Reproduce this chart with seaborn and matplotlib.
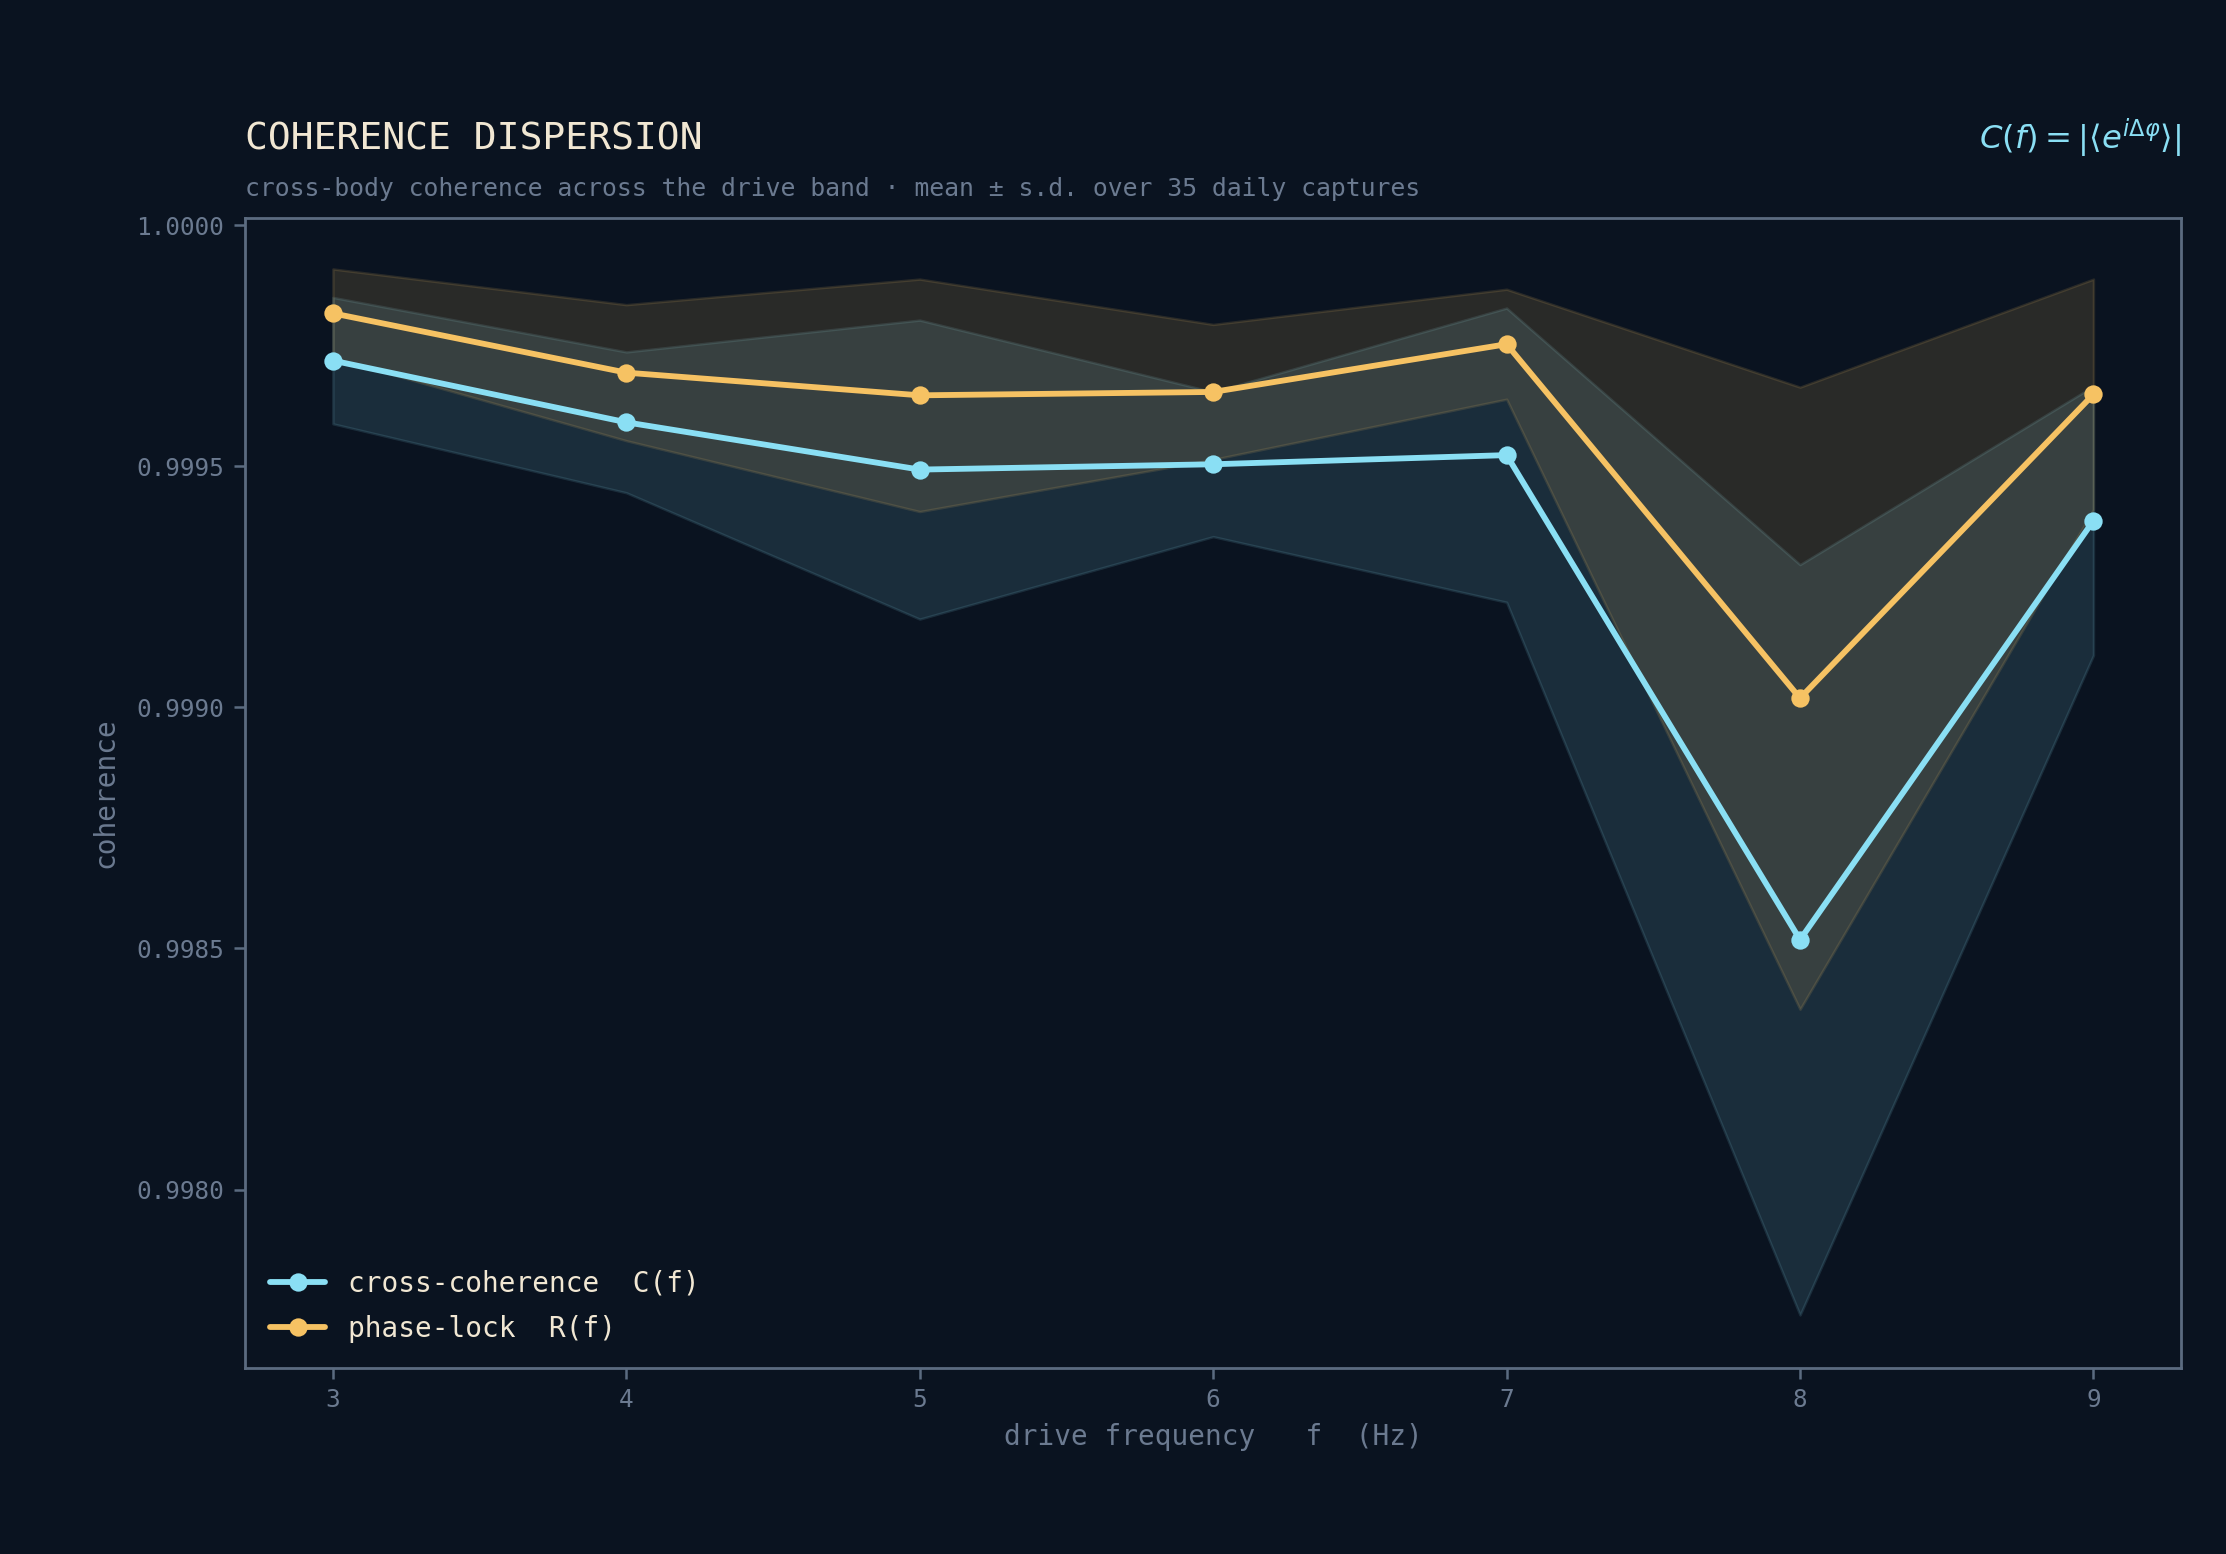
import numpy as np
import pandas as pd
import matplotlib
matplotlib.use("Agg")
import matplotlib.pyplot as plt
import seaborn as sns

# ---- data ----
freq = [3, 4, 5, 6, 7, 8, 9]
c_mean = [0.999719, 0.999591, 0.999493, 0.999504, 0.999523, 0.998518, 0.999387]
c_sd = [0.000131, 0.000146, 0.000310, 0.000150, 0.000305, 0.000778, 0.000279]
r_mean = [0.999817, 0.999694, 0.999647, 0.999654, 0.999753, 0.999019, 0.999649]
r_sd = [0.000092, 0.000141, 0.000241, 0.000140, 0.000114, 0.000645, 0.000239]
series_labels = ["cross-coherence  C(f)", "phase-lock  R(f)"]
y_ticks = [0.9980, 0.9985, 0.9990, 0.9995, 1.0000]

BG = "#0a1320"
CYAN = "#8adff4"
ORANGE = "#f6c263"
CREAM = "#f1e7d3"
MUTED = "#6b7a90"
SPINE = "#5b6b80"

sns.set_theme(style="dark")
plt.rcParams["font.family"] = ["DejaVu Sans Mono", "DejaVu Sans"]
plt.rcParams["mathtext.fontset"] = "dejavusans"

fig = plt.figure(figsize=(11.13, 7.77), dpi=200, facecolor=BG)
ax = fig.add_axes([0.110, 0.120, 0.870, 0.740])
ax.set_facecolor(BG)

df = pd.DataFrame({
    "f": freq * 2,
    "value": c_mean + r_mean,
    "series": [series_labels[0]] * len(freq) + [series_labels[1]] * len(freq),
})

x = np.array(freq, dtype=float)
cm, cs = np.array(c_mean), np.array(c_sd)
rm, rs = np.array(r_mean), np.array(r_sd)
ax.fill_between(x, cm - cs, cm + cs, facecolor=CYAN, alpha=0.13,
                edgecolor=CYAN, linewidth=0.9, zorder=1)
ax.fill_between(x, rm - rs, rm + rs, facecolor=ORANGE, alpha=0.135,
                edgecolor=ORANGE, linewidth=0.9, zorder=1)

sns.lineplot(data=df, x="f", y="value", hue="series",
             hue_order=series_labels, palette=[CYAN, ORANGE],
             marker="o", markersize=6.6, markeredgewidth=0, linewidth=2.1,
             ax=ax, zorder=3)

ax.set_xlim(2.7, 9.3)
ax.set_ylim(0.997631, 1.0000156)
ax.set_xticks(freq)
ax.set_xticklabels([str(v) for v in freq])
ax.set_yticks(y_ticks)
ax.set_yticklabels([f"{v:.4f}" for v in y_ticks])
ax.tick_params(axis="both", colors=SPINE, labelcolor=MUTED, labelsize=8.8,
               length=4, width=0.9, direction="out", bottom=True, left=True)
ax.grid(False)
for s in ax.spines.values():
    s.set_visible(True)
    s.set_color(SPINE)
    s.set_linewidth(1.0)

ax.set_xlabel("drive frequency   f  (Hz)", color=MUTED, fontsize=10, labelpad=4)
ax.set_ylabel("coherence", color=MUTED, fontsize=10, labelpad=6)

leg = ax.legend(loc="lower left", frameon=False, fontsize=10,
                handlelength=2.0, borderaxespad=0.5, labelspacing=0.6)
for t in leg.get_texts():
    t.set_color(CREAM)

fig.text(0.110, 0.904, "COHERENCE DISPERSION", color=CREAM, fontsize=13.7,
         ha="left", va="baseline")
fig.text(0.110, 0.874,
         "cross-body coherence across the drive band \u00b7 mean \u00b1 s.d. over 35 daily captures",
         color=MUTED, fontsize=8.93, ha="left", va="baseline")
fig.text(0.980, 0.904, r"$C(f) = |\langle e^{i\Delta\varphi}\rangle|$",
         color=CYAN, fontsize=11.6, ha="right", va="baseline",
         family="DejaVu Sans")

fig.savefig("out.png", dpi=200, facecolor=BG)
